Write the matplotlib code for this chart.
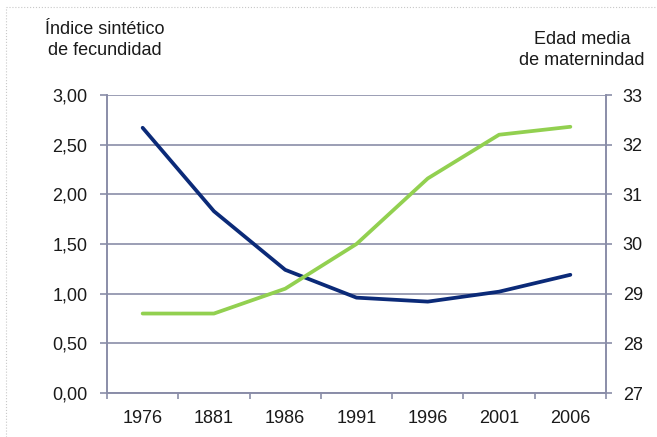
import matplotlib.pyplot as plt
from matplotlib.lines import Line2D
from matplotlib.ticker import FuncFormatter, FixedLocator

plt.rcParams['font.family'] = ['Liberation Sans', 'DejaVu Sans']

# data
years = ['1976', '1881', '1986', '1991', '1996', '2001', '2006']
fecundidad = [2.67, 1.83, 1.24, 0.96, 0.92, 1.02, 1.19]
edad_media = [28.6, 28.6, 29.1, 30.0, 31.32, 32.2, 32.36]

W, H = 657, 437
fig = plt.figure(figsize=(W / 100, H / 100), dpi=100)
ax = fig.add_axes([107 / W, 1 - 393 / H, 499 / W, 298 / H])
ax2 = ax.twinx()

grid_col = '#8a8da8'
txt_col = '#1a1a1a'
x = list(range(len(years)))

ax.plot(x, fecundidad, color='#0b2a78', lw=2.7, solid_capstyle='round', zorder=3)
ax2.plot(x, edad_media, color='#92d050', lw=2.7, solid_capstyle='round', zorder=3)

ax.set_xlim(-0.5, len(years) - 0.5)
ax.set_ylim(0, 3)
ax2.set_ylim(27, 33)

ax.set_yticks([0, 0.5, 1, 1.5, 2, 2.5, 3])
ax.yaxis.set_major_formatter(FuncFormatter(lambda v, p: f'{v:.2f}'.replace('.', ',')))
ax2.set_yticks(range(27, 34))

# category boundaries get the tick marks, labels sit in the middle
ax.xaxis.set_major_locator(FixedLocator([i - 0.5 for i in range(len(years) + 1)]))
ax.xaxis.set_major_formatter(FuncFormatter(lambda v, p: ''))
ax.xaxis.set_minor_locator(FixedLocator(x))
ax.set_xticklabels(years, minor=True)
ax.tick_params(axis='x', which='minor', length=0, pad=12, labelsize=13, labelcolor=txt_col)
ax.tick_params(axis='x', which='major', length=4, width=1.2, color=grid_col)
ax.tick_params(axis='y', length=5, width=1.2, color=grid_col, pad=9, labelsize=13, labelcolor=txt_col)
ax2.tick_params(axis='y', length=4, width=1.2, color=grid_col, pad=8, labelsize=13, labelcolor=txt_col)

ax.grid(axis='y', color=grid_col, lw=1.2)
ax.set_axisbelow(True)
for a in (ax, ax2):
    a.spines['top'].set_visible(False)
    for s in ('left', 'bottom', 'right'):
        a.spines[s].set_color(grid_col)
        a.spines[s].set_linewidth(1.2)

fig.text(105 / W, 1 - 40 / H, 'Índice sintético\nde fecundidad', ha='center', va='center',
         fontsize=13, color=txt_col, linespacing=1.25)
fig.text(582 / W, 1 - 50 / H, 'Edad media\nde maternindad', ha='center', va='center',
         fontsize=13, color=txt_col, linespacing=1.25)

# dotted frame of the original picture
fig.add_artist(Line2D([6 / W, 1], [1 - 7 / H, 1 - 7 / H], color='#c8c8c8', lw=0.8, ls=':'))
fig.add_artist(Line2D([6 / W, 6 / W], [0, 1 - 7 / H], color='#c8c8c8', lw=0.8, ls=':'))

fig.savefig('out.png', dpi=100)
